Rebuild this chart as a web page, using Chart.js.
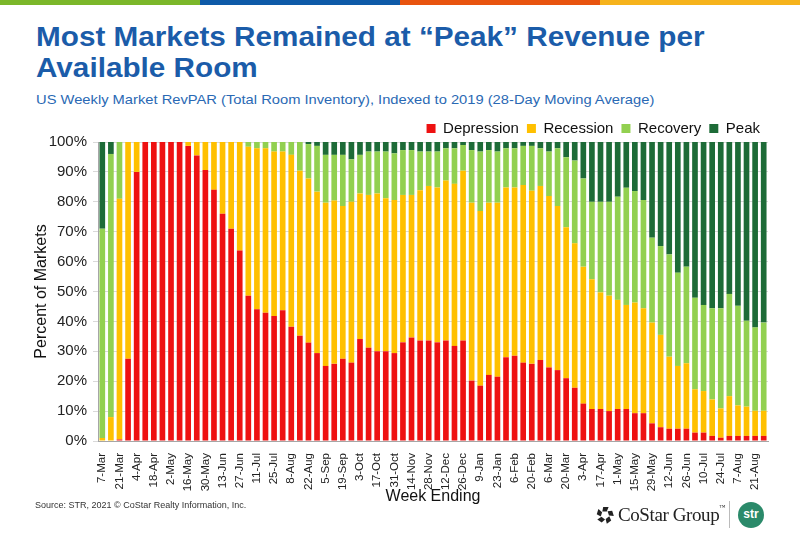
<!DOCTYPE html>
<html>
<head>
<meta charset="utf-8">
<script src="https://cdn.jsdelivr.net/npm/chart.js@4.4.0/dist/chart.umd.min.js"></script>
<style>
  html, body { margin: 0; padding: 0; background: #fff; }
  body { width: 800px; height: 534px; position: relative; overflow: hidden; font-family: "Liberation Sans", Arial, sans-serif; }
  .stripe { position: absolute; top: 0; height: 5px; width: 200px; }
  h1 { position: absolute; left: 36px; top: 22px; margin: 0; font-size: 27px; line-height: 31px; color: #1b5ca9; font-weight: bold; transform: scaleX(1.1); transform-origin: left top; white-space: nowrap; }
  .sub { position: absolute; left: 36px; top: 92px; font-size: 13.5px; color: #2a69b4; white-space: nowrap; transform: scaleX(1.09); transform-origin: left top; }
  #wrap { position: absolute; left: 0; top: 109px; width: 800px; height: 401px; }
  .source { position: absolute; left: 35px; top: 500px; font-size: 9px; color: #333; }
  .costar { position: absolute; left: 596px; top: 503px; height: 24px; display: flex; align-items: center; }
  .costar span { font-family: "Liberation Serif", "Times New Roman", serif; font-size: 19px; color: #222; margin-left: 4px; letter-spacing: -0.4px; }
  .costar sup { font-size: 6px; vertical-align: top; }
  .sep { position: absolute; left: 729px; top: 501px; width: 1px; height: 27px; background: #bbb; }
  .str { position: absolute; left: 738px; top: 502px; width: 26px; height: 26px; border-radius: 50%; background: #2b8a6a; color: #fff; font-size: 12px; font-weight: bold; text-align: center; line-height: 25px; }
</style>
</head>
<body>
<div class="stripe" style="left:0;background:#7bb72a"></div>
<div class="stripe" style="left:200px;background:#0e5aa8"></div>
<div class="stripe" style="left:400px;background:#e8540f"></div>
<div class="stripe" style="left:600px;background:#f6b31c"></div>
<h1>Most Markets Remained at “Peak” Revenue per<br>Available Room</h1>
<div class="sub">US Weekly Market RevPAR (Total Room Inventory), Indexed to 2019 (28-Day Moving Average)</div>
<div id="wrap"><canvas id="chart"></canvas></div>
<div class="source">Source: STR, 2021 © CoStar Realty Information, Inc.</div>
<div class="costar">
  <svg width="18" height="18" viewBox="-10 -10 20 20">
    <g fill="#222">
      <path d="M-2,-9 L4,-9 L2,-4 L-3,-4 Z" />
      <path d="M-2,-9 L4,-9 L2,-4 L-3,-4 Z" transform="rotate(72)" />
      <path d="M-2,-9 L4,-9 L2,-4 L-3,-4 Z" transform="rotate(144)" />
      <path d="M-2,-9 L4,-9 L2,-4 L-3,-4 Z" transform="rotate(216)" />
      <path d="M-2,-9 L4,-9 L2,-4 L-3,-4 Z" transform="rotate(288)" />
    </g>
  </svg>
  <span>CoStar Group<sup>™</sup></span>
</div>
<div class="sep"></div>
<div class="str">str</div>
<script>
const weeks = [
  '7-Mar', '14-Mar', '21-Mar', '28-Mar', '4-Apr', '11-Apr', '18-Apr', '25-Apr', '2-May', '9-May',
  '16-May', '23-May', '30-May', '6-Jun', '13-Jun', '20-Jun', '27-Jun', '4-Jul', '11-Jul', '18-Jul',
  '25-Jul', '1-Aug', '8-Aug', '15-Aug', '22-Aug', '29-Aug', '5-Sep', '12-Sep', '19-Sep', '26-Sep',
  '3-Oct', '10-Oct', '17-Oct', '24-Oct', '31-Oct', '7-Nov', '14-Nov', '21-Nov', '28-Nov', '5-Dec',
  '12-Dec', '19-Dec', '26-Dec', '2-Jan', '9-Jan', '16-Jan', '23-Jan', '30-Jan', '6-Feb', '13-Feb',
  '20-Feb', '27-Feb', '6-Mar', '13-Mar', '20-Mar', '27-Mar', '3-Apr', '10-Apr', '17-Apr', '24-Apr',
  '1-May', '8-May', '15-May', '22-May', '29-May', '5-Jun', '12-Jun', '19-Jun', '26-Jun', '3-Jul',
  '10-Jul', '17-Jul', '24-Jul', '31-Jul', '7-Aug', '14-Aug', '21-Aug', '28-Aug'
];

// share of markets in each phase, %
const depression = [
  0, 0, 0.5, 27.5, 90, 100, 100, 100, 100, 100,
  98.7, 95.5, 90.6, 84, 76, 71, 63.7, 48.6, 44.1, 42.9,
  41.8, 43.7, 38.2, 35.2, 32.9, 29.4, 25.1, 25.8, 27.5, 26.2,
  34.1, 31.2, 30, 30, 29.4, 33, 34.6, 33.6, 33.6, 33,
  33.6, 31.8, 33.6, 20.2, 18.5, 22.1, 21.5, 28, 28.5, 26.2,
  25.8, 27.1, 24.6, 23.7, 21, 17.8, 12.5, 10.7, 10.7, 10,
  10.7, 10.7, 9.3, 9.3, 5.9, 4.6, 4.1, 4.1, 4.1, 2.8,
  2.8, 1.7, 1.1, 1.7, 1.7, 1.7, 1.7, 1.7
];
const recession = [
  1, 8, 80.5, 72.5, 10, 0, 0, 0, 0, 0,
  1.3, 4.5, 9.4, 16, 24, 29, 36.3, 49.8, 53.8, 55,
  55, 53.1, 57.5, 55.2, 54.9, 54, 54.6, 54.6, 51.1, 53.8,
  48.7, 51.1, 52.8, 51.2, 51.2, 49.3, 47.7, 50.3, 51.7, 51.8,
  53.5, 54.2, 56.8, 59.5, 58.4, 57.6, 58.2, 56.8, 56.3, 59.4,
  57.9, 58.2, 57.3, 54.9, 50.5, 48.3, 45.8, 43.4, 39, 38.6,
  36.5, 34.8, 37, 35.1, 33.7, 30.9, 24.1, 21, 21.9, 14.5,
  13.9, 12.2, 9.8, 13.3, 10.2, 9.8, 8.4, 8.4
];
const recovery = [
  70, 88, 19, 0, 0, 0, 0, 0, 0, 0,
  0, 0, 0, 0, 0, 0, 0, 1.6, 2.1, 2.1,
  3.2, 3.2, 4.3, 9.6, 11.5, 15.3, 16, 15.3, 17.1, 14.2,
  12.9, 14.5, 14, 15.6, 15.6, 15, 15, 12.9, 11.5, 12,
  10.8, 11.9, 8.6, 17.6, 19.9, 17.6, 17.1, 13.1, 13.1, 13.1,
  15, 12.6, 14.9, 19.3, 23.4, 27.7, 29.5, 25.9, 30.3, 31.4,
  34.5, 39.2, 37.3, 36.2, 28.4, 29.7, 34.2, 31.2, 32.3, 30.6,
  28.8, 30.5, 33.5, 34.2, 33.3, 28.7, 27.9, 29.5
];
const peak = [
  29, 4, 0, 0, 0, 0, 0, 0, 0, 0,
  0, 0, 0, 0, 0, 0, 0, 0, 0, 0,
  0, 0, 0, 0, 0.7, 1.3, 4.3, 4.3, 4.3, 5.8,
  4.3, 3.2, 3.2, 3.2, 3.8, 2.7, 2.7, 3.2, 3.2, 3.2,
  2.1, 2.1, 1, 2.7, 3.2, 2.7, 3.2, 2.1, 2.1, 1.3,
  1.3, 2.1, 3.2, 2.1, 5.1, 6.2, 12.2, 20, 20, 20,
  18.3, 15.3, 16.4, 19.4, 32, 34.8, 37.6, 43.7, 41.7, 52.1,
  54.5, 55.6, 55.6, 50.8, 54.8, 59.8, 62, 60.4
];

const series = [
  { label: 'Depression', data: depression, color: '#ee1111' },
  { label: 'Recession', data: recession, color: '#ffc000' },
  { label: 'Recovery', data: recovery, color: '#92d050' },
  { label: 'Peak', data: peak, color: '#1d6b37' }
];

// pull the plot area a little closer to the legend
const legendGap = {
  id: 'legendGap',
  beforeUpdate: function (chart) {
    const legend = chart.legend;
    if (!legend || legend._gapPatched) return;
    const fit = legend.fit;
    legend.fit = function () {
      fit.call(this);
      this.height -= 4;
    };
    legend._gapPatched = true;
  }
};

const ctx = document.getElementById('chart').getContext('2d');
new Chart(ctx, {
  type: 'bar',
  data: {
    labels: weeks,
    datasets: series.map(s => ({
      label: s.label,
      data: s.data,
      backgroundColor: s.color,
      borderWidth: 0,
      barPercentage: 0.66,
      categoryPercentage: 1
    }))
  },
  plugins: [legendGap],
  options: {
    responsive: true,
    maintainAspectRatio: false,
    animation: false,
    layout: { padding: { left: 28, right: 32, top: 4, bottom: 0 } },
    plugins: {
      tooltip: { enabled: false },
      legend: {
        position: 'top',
        align: 'end',
        labels: {
          boxWidth: 9,
          boxHeight: 9,
          padding: 8,
          color: '#111',
          font: { family: 'Liberation Sans', size: 15 }
        }
      }
    },
    scales: {
      x: {
        stacked: true,
        grid: { display: false },
        border: { color: '#a6a6a6' },
        ticks: {
          autoSkip: false,
          maxRotation: 90,
          minRotation: 90,
          padding: 4,
          color: '#222',
          font: { family: 'Liberation Sans', size: 11.5 },
          callback: function (value, index) {
            return index % 2 === 0 ? weeks[index] : '';
          }
        },
        title: {
          display: true,
          text: 'Week Ending',
          color: '#111',
          font: { family: 'Liberation Sans', size: 16 },
          padding: { top: 2, bottom: 4 }
        },
        afterFit: function (scale) { scale.height = 69; }
      },
      y: {
        stacked: true,
        min: 0,
        max: 100,
        grid: { color: '#d9d9d9', tickLength: 5 },
        border: { color: '#a6a6a6' },
        ticks: {
          stepSize: 10,
          padding: 6,
          color: '#222',
          font: { family: 'Liberation Sans', size: 15 },
          callback: function (value) { return value + '%'; }
        },
        title: {
          display: true,
          text: 'Percent of Markets',
          color: '#111',
          font: { family: 'Liberation Sans', size: 16 },
          padding: 4
        },
        afterFit: function (scale) { scale.width = 70; }
      }
    }
  }
});
</script>
</body>
</html>
